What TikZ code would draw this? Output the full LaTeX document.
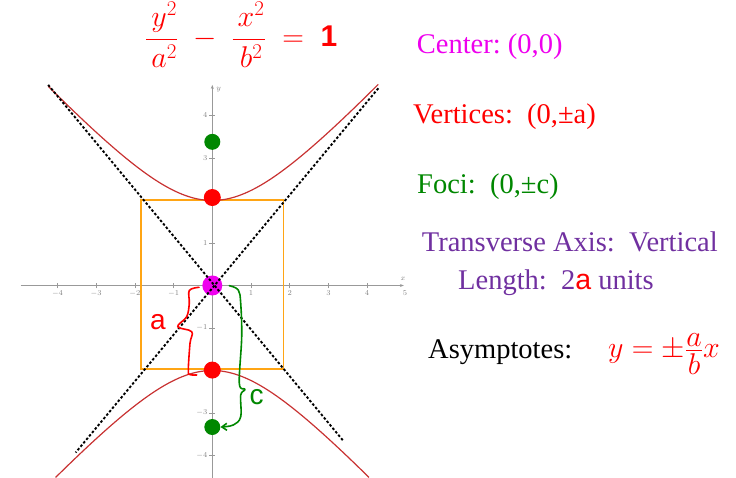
\RequirePackage{fix-cm}
\documentclass[tikz,border=0pt]{standalone}
\usepackage{amsmath}
\usepackage{fontspec}
\setmainfont{Liberation Serif}
\setsansfont{Liberation Sans}
\usepackage{tikz}
\usetikzlibrary{arrows.meta}
\usepackage{xcolor}
\definecolor{centermag}{RGB}{238,0,238}
\definecolor{vertred}{RGB}{255,0,0}
\definecolor{focigreen}{RGB}{0,135,0}
\definecolor{axispurple}{RGB}{112,48,160}
\definecolor{boxorange}{RGB}{255,165,20}
\definecolor{curvered}{RGB}{200,50,50}
\frenchspacing

\begin{document}
\begin{tikzpicture}[
      x=1pt, y=1pt,
      info/.style={anchor=base west, inner sep=0pt, font=\fontsize{28.5}{34}\selectfont},
      bigmath/.style={anchor=base west, inner sep=0pt, text=vertred, font=\fontsize{30}{34}\selectfont},
      spot/.style={circle, inner sep=0pt, minimum size=#1},
      ticklab/.style={text=gray, inner sep=0pt, font=\fontsize{7.5}{8}\selectfont},
      axisline/.style={gray!80, line width=0.7pt},
      asym/.style={black, dash pattern=on 2.5pt off 2pt, line width=1.9pt},
      hyp/.style={curvered, line width=1.2pt},
      hand/.style={line width=1.6pt, line cap=round, line join=round},
      handtext/.style={inner sep=0pt, font=\sffamily\fontsize{28}{30}\selectfont}
    ]
    \useasboundingbox (0,0) rectangle (736,478);
    % graph of the hyperbola, origin at its centre
    \begin{scope}[shift={(212.3,192.5)}, x=38.7pt, y=42.5pt]
      % axes
      \draw[axisline, -{Stealth[length=4pt,width=3pt]}] (-4.95,0) -- (4.95,0);
      \draw[axisline, -{Stealth[length=4pt,width=3pt]}] (0,-4.6) -- (0,4.72);
      \foreach \k in {-4,-3,-2,-1,1,2,3,4} {
        \draw[axisline] (\k,-0.07) -- (\k,0.07);
        \draw[axisline] (-0.08,\k) -- (0.08,\k);
        \node[ticklab, anchor=north] (xl\k) at (\k,-0.12) {$\k$};
      }
      \foreach \k in {-4,-3,-1,1,3,4}
        \node[ticklab, anchor=east] (yl\k) at (-0.12,\k) {$\k$};
      \node[ticklab, anchor=north] (xl5) at (4.98,-0.12) {$5$};
      \node[ticklab, anchor=south] (xname) at (4.93,0.12) {$x$};
      \node[ticklab, anchor=west] (yname) at (0.1,4.6) {$y$};
      % fundamental rectangle
      \draw[boxorange, line width=1.8pt] (-1.85,-1.97) rectangle (1.84,2.01);
      % the two branches
      \draw[hyp] plot[domain=-4.24:4.29, samples=90] (\x, {2*sqrt(1+\x*\x/4)});
      \draw[hyp] plot[domain=-4.05:4.05, samples=90] (\x, {-2*sqrt(1+\x*\x/4)});
      % centre, vertices and foci
      \node[spot=20pt, fill=centermag] (ctr) at (0,0) {};
      \node[spot=17pt, fill=vertred] (v1) at (0,2.07) {};
      \node[spot=17pt, fill=vertred] (v2) at (0,-1.99) {};
      \node[spot=16pt, fill=focigreen] (f1) at (0,3.38) {};
      \node[spot=16pt, fill=focigreen] (f2) at (0,-3.33) {};
      % asymptotes
      \draw[asym] (-4.24,4.72) -- (3.38,-3.65);
      \draw[asym] (4.29,4.64) -- (-3.53,-3.93);
    \end{scope}
    % hand drawn braces for a and c
    \draw[hand, vertred] plot[smooth, tension=0.6] coordinates {(199,190.7) (189.3,187.5) (189.3,174.7)
      (186.7,161.3) (177.7,151.3) (191.7,146.3) (190,134.7) (188.3,108) (189.8,103.5) (196.7,103)};
    \node[handtext, text=vertred] (alab) at (158,156.3) {a};
    \draw[hand, focigreen, -{Straight Barb[length=5pt,width=7pt]}] plot[smooth, tension=0.6] coordinates {(229.3,192.3) (238.3,188)
      (240.7,174.7) (241.7,141.3) (239.3,94.7) (245,88.7) (240.7,83) (240.7,61.3) (233.3,53) (f2.east)};
    \node[handtext, text=focigreen] (clab) at (256.7,81.3) {c};
    % equation and facts
    \node[bigmath] (eqn) at (145,431) {$\dfrac{\,y^2}{\,a^2}\;-\;\dfrac{\,x^2}{\,b^2}\;=\;\text{\sffamily\bfseries 1}$};
    \node[info, text=centermag] (center) at (416.7,424.7) {Center: (0,0)};
    \node[info, text=vertred] (vertices) at (413,354.7) {Vertices:~~(0,±a)};
    \node[info, text=focigreen] (foci) at (417,284.7) {Foci:~~(0,±c)};
    \node[info, text=axispurple] (trans) at (421.7,226.3) {Transverse Axis:~~Vertical};
    \node[info, text=axispurple] (length) at (458,188) {Length:~~2{\color{vertred}\sffamily a} units};
    \node[info] (asymp) at (428,119.7) {Asymptotes:};
    \node[bigmath] (asymeq) at (608,120) {$y = \pm\tfrac{\displaystyle a\rule[-2pt]{0pt}{0pt}}{\displaystyle\rule{0pt}{23pt}b}x$};
  \end{tikzpicture}
\end{document}
